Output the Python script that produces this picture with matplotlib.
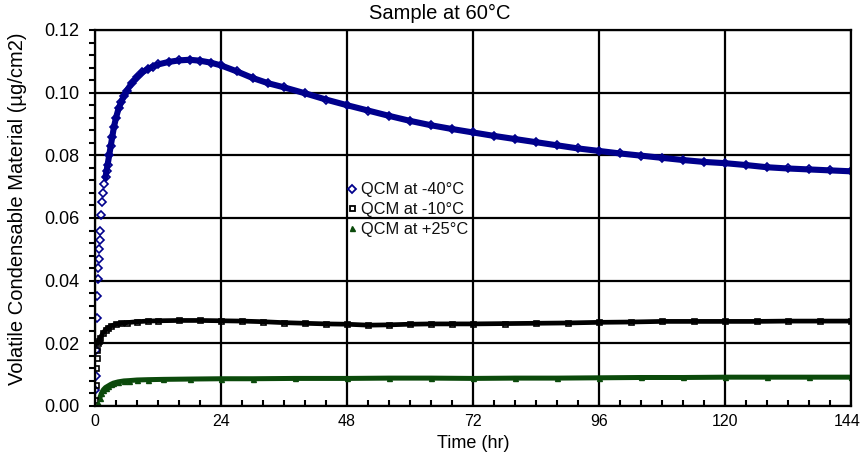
import matplotlib
matplotlib.use("Agg")
import matplotlib.pyplot as plt
import matplotlib.transforms as mtransforms
from matplotlib.ticker import MultipleLocator

plt.rcParams['font.family'] = ['Liberation Sans', 'DejaVu Sans']

# QCM at -40°C (blue)
t_m40 = [0.0, 0.1, 0.2, 0.3, 0.4, 0.5, 0.6, 0.7, 0.8, 0.9, 1.0, 1.2, 1.4, 1.6, 1.8,
         2.0, 2.2, 2.4, 2.7, 3.0, 3.3, 3.6, 4.0, 4.5, 5.0, 5.5, 6.0, 7.0, 8.0, 9.0,
         10, 11, 12, 14, 16, 18, 20, 22, 24, 27, 30, 33, 36, 40, 44, 48, 52, 56, 60,
         64, 68, 72, 76, 80, 84, 88, 92, 96, 100, 104, 108, 112, 116, 120, 124, 128,
         132, 136, 140, 144]
v_m40 = [0.005, 0.0095, 0.018, 0.028, 0.035, 0.0405, 0.044, 0.047, 0.050, 0.053,
         0.056, 0.061, 0.065, 0.068, 0.071, 0.073, 0.075, 0.077, 0.080, 0.083,
         0.086, 0.089, 0.092, 0.095, 0.097, 0.099, 0.1005, 0.103, 0.105, 0.1065,
         0.1075, 0.1083, 0.109, 0.1098, 0.1103, 0.1105, 0.1102, 0.1096, 0.1087,
         0.1068, 0.1047, 0.1030, 0.1017, 0.0998, 0.0978, 0.0960, 0.0943, 0.0926,
         0.0910, 0.0896, 0.0884, 0.0873, 0.0862, 0.0852, 0.0842, 0.0832, 0.0822,
         0.0814, 0.0806, 0.0799, 0.0792, 0.0785, 0.0779, 0.0775, 0.0769, 0.0762,
         0.0758, 0.0755, 0.0752, 0.0749]

# QCM at -10°C (black)
t_m10 = [0.0, 0.1, 0.2, 0.3, 0.4, 0.5, 0.7, 1.0, 1.5, 2.0, 2.5, 3.0, 4.0, 5.0, 6.0,
         8, 10, 12, 16, 20, 24, 28, 32, 36, 40, 44, 48, 52, 56, 60, 64, 68, 72, 78,
         84, 90, 96, 102, 108, 114, 120, 126, 132, 138, 144]
v_m10 = [0.002, 0.0066, 0.012, 0.0152, 0.0179, 0.0200, 0.0208, 0.0218, 0.0232,
         0.0243, 0.0250, 0.0255, 0.0261, 0.0264, 0.0266, 0.0269, 0.0271, 0.0272,
         0.0273, 0.0273, 0.0272, 0.0271, 0.0269, 0.0266, 0.0264, 0.0262, 0.0261,
         0.0258, 0.0259, 0.0261, 0.0262, 0.0262, 0.0262, 0.0263, 0.0264, 0.0265,
         0.0267, 0.0268, 0.0270, 0.0270, 0.0270, 0.0270, 0.0271, 0.0271, 0.0271]

# QCM at +25°C (green)
t_p25 = [0.0, 0.3, 0.6, 0.9, 1.2, 1.6, 2.0, 2.5, 3.0, 3.5, 4.4, 5.5, 6.5, 8, 10, 13,
         18, 24, 30, 38, 48, 56, 64, 72, 80, 88, 96, 104, 112, 120, 128, 136, 144]
v_p25 = [0.0, 0.0003, 0.001, 0.0025, 0.004, 0.0052, 0.0059, 0.0064, 0.0069, 0.0073,
         0.0077, 0.0080, 0.0081, 0.0083, 0.0084, 0.0085, 0.0086, 0.0087, 0.0087,
         0.0088, 0.0088, 0.0089, 0.0089, 0.0088, 0.0089, 0.0089, 0.0090, 0.0091,
         0.0091, 0.0092, 0.0092, 0.0092, 0.0092]

labels = ["QCM at -40°C", "QCM at -10°C", "QCM at +25°C"]
x_ticks = [0, 24, 48, 72, 96, 120, 144]
y_ticks = [0.00, 0.02, 0.04, 0.06, 0.08, 0.10, 0.12]

W, H = 863, 457
fig = plt.figure(figsize=(W / 100, H / 100), dpi=100)
ax = fig.add_axes([95/W, 1-406/H, 756/W, 376/H])

c_blue = '#00008c'
c_black = '#000000'
c_green = '#0b4a0b'

# dense band portions (the sparse early readings stay as separate markers)
ax.plot(t_m40[15:], v_m40[15:], color=c_blue, lw=4.4, zorder=3, solid_capstyle='round')
ax.plot(t_m10[5:], v_m10[5:], color=c_black, lw=3.4, zorder=3, solid_capstyle='round')
ax.plot(t_p25[3:], v_p25[3:], color=c_green, lw=3.6, zorder=3, solid_capstyle='round')

ax.plot(t_m40, v_m40, ls='none', marker='D', ms=3.6, mfc='none', mec=c_blue, mew=1.2, zorder=4)
ax.plot(t_m10, v_m10, ls='none', marker='s', ms=3.6, mfc='none', mec=c_black, mew=1.2, zorder=4)
ax.plot(t_p25, v_p25, ls='none', marker='^', ms=3.6, mfc=c_green, mec=c_green, mew=1.0, zorder=4)

# legend proxies
h1, = ax.plot([], [], ls='none', marker='D', ms=3.6, mfc='white', mec=c_blue, mew=1.3)
h2, = ax.plot([], [], ls='none', marker='s', ms=3.6, mfc='white', mec=c_black, mew=1.3)
h3, = ax.plot([], [], ls='none', marker='^', ms=3.6, mfc=c_green, mec=c_green, mew=1.0)
leg = ax.legend([h1, h2, h3], labels, loc='center', bbox_to_anchor=(0.414, 0.522),
                frameon=False, fontsize=11.8, handlelength=0.5, handletextpad=0.3,
                labelspacing=0.3, borderpad=0.1)
leg.set_zorder(6)
for txt in leg.get_texts():
    txt.set_color('#111111')

ax.set_xlim(0, 144)
ax.set_ylim(0, 0.12)
ax.set_xticks(x_ticks)
ax.set_yticks(y_ticks)
ax.set_yticklabels([f"{v:.2f}" for v in y_ticks])
ax.xaxis.set_minor_locator(MultipleLocator(4))
ax.yaxis.set_minor_locator(MultipleLocator(0.004))

ax.grid(True, which='major', color='black', lw=1.6, zorder=1)
ax.set_axisbelow(True)

ax.tick_params(axis='x', which='both', direction='in', length=4, width=1.5,
               labelsize=11.5, pad=6)
ax.tick_params(axis='y', which='both', direction='out', length=4, width=1.5,
               labelsize=13, pad=7)
for s in ax.spines.values():
    s.set_linewidth(1.6)
    s.set_zorder(5)

# keep the last x tick label inside the picture
fig.canvas.draw()
last = ax.get_xticklabels()[-1]
last.set_transform(last.get_transform() +
                   mtransforms.ScaledTranslation(-4 / 100, 0, fig.dpi_scale_trans))

fig.text(440/W, 1-13/H, "Sample at 60°C", fontsize=14.5, ha='center', va='center')
ax.set_xlabel("Time (hr)", fontsize=13)
ax.xaxis.set_label_coords(0.5, -(443 - 406) / 376)
ax.xaxis.label.set_va('center')
ax.set_ylabel("Volatile Condensable Material (µg/cm2)", fontsize=14.5)
ax.yaxis.set_label_coords(-(95 - 18) / 756, (406 - 209) / 376)
ax.yaxis.label.set_va('center')

fig.savefig("out.png", dpi=100)
